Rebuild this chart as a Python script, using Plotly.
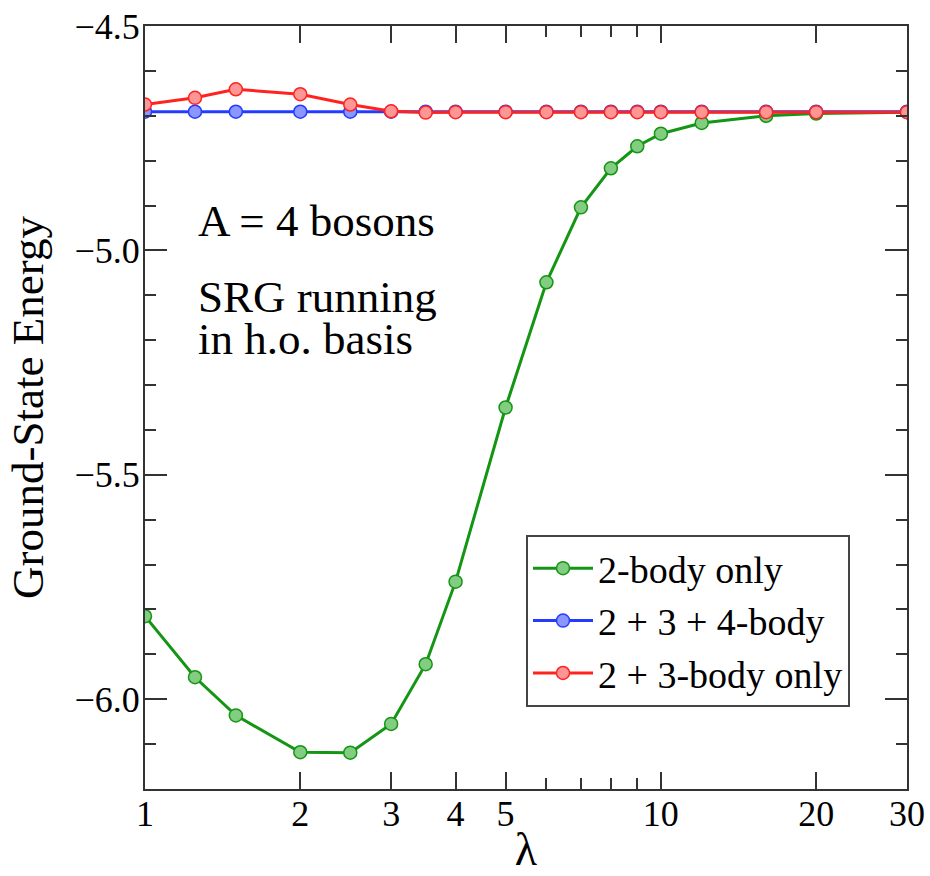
import plotly.graph_objects as go

# SRG flow parameter lambda
lam = [1, 1.25, 1.5, 2, 2.5, 3, 3.5, 4, 5, 6, 7, 8, 9, 10, 12, 16, 20, 30]

# Ground-state energies for A = 4 bosons
e_2body = [-5.815, -5.951, -6.036, -6.118, -6.119, -6.055, -5.922, -5.738,
           -5.350, -5.071, -4.904, -4.817, -4.768, -4.740, -4.716, -4.700,
           -4.695, -4.692]
e_234body = [-4.691] * len(lam)
e_23body = [-4.675, -4.660, -4.641, -4.652, -4.675, -4.690, -4.693, -4.692,
            -4.692, -4.692, -4.692, -4.692, -4.692, -4.692, -4.692, -4.692,
            -4.692, -4.692]

series_names = ["2-body only", "2 + 3 + 4-body", "2 + 3-body only"]

x_major = [1, 2, 3, 4, 5, 10, 20, 30]
x_minor = [6, 7, 8, 9]
y_major = [-4.5, -5.0, -5.5, -6.0]
y_minor = [-4.6, -4.7, -4.8, -4.9, -5.1, -5.2, -5.3, -5.4, -5.6, -5.7,
           -5.8, -5.9, -6.1]

FONT = "Liberation Serif, Times New Roman, serif"

styles = [
    dict(line="rgb(20,150,20)", fill="rgb(130,205,130)"),
    dict(line="rgb(35,60,255)", fill="rgb(140,150,255)"),
    dict(line="rgb(255,35,30)", fill="rgb(255,150,150)"),
]

fig = go.Figure()
for name, ys, st in zip(series_names, [e_2body, e_234body, e_23body], styles):
    fig.add_trace(go.Scatter(
        x=lam, y=ys, name=name, mode="lines+markers",
        line=dict(color=st["line"], width=3),
        marker=dict(symbol="circle", size=13, color=st["fill"],
                    line=dict(color=st["line"], width=1.5)),
    ))

axis_common = dict(
    showline=True, linecolor="#333333", linewidth=2, mirror="ticks",
    ticks="inside", tickcolor="#333333", tickwidth=2,
    showgrid=False, zeroline=False, automargin=False,
    tickfont=dict(family=FONT, size=36, color="black"),
)

fig.update_xaxes(
    type="log", range=[0, 1.4771213],
    tickmode="array", tickvals=x_major, ticktext=[str(v) for v in x_major],
    ticklen=17, ticklabelstandoff=-8,
    minor=dict(tickmode="array", tickvals=x_minor, ticks="inside",
               ticklen=11, tickcolor="#333333", tickwidth=2),
    title=dict(text="λ", font=dict(family=FONT, size=46, color="black"),
               standoff=0),
    **axis_common,
)
fig.update_yaxes(
    range=[-6.2, -4.5],
    tickmode="array", tickvals=y_major, tickformat=".1f",
    ticklen=22, ticklabelstandoff=-4,
    minor=dict(tickmode="array", tickvals=y_minor, ticks="inside",
               ticklen=11, tickcolor="#333333", tickwidth=2),
    title=dict(text="Ground-State Energy",
               font=dict(family=FONT, size=45, color="black"), standoff=17),
    **axis_common,
)

ann_font = dict(family=FONT, size=45, color="black")
for txt, yp in [("A = 4 bosons", 0.745), ("SRG running", 0.645),
                ("in h.o. basis", 0.590)]:
    fig.add_annotation(text=txt, xref="paper", yref="paper", x=0.067, y=yp,
                       xanchor="left", yanchor="middle", showarrow=False,
                       font=ann_font)

fig.update_layout(
    width=930, height=876, autosize=False,
    margin=dict(l=145, r=23, t=26, b=87),
    plot_bgcolor="white", paper_bgcolor="white",
    legend=dict(x=0.5, y=0.1075, xanchor="left", yanchor="bottom",
                bgcolor="white", bordercolor="#444444", borderwidth=2,
                font=dict(family=FONT, size=38, color="black"),
                itemwidth=60, tracegroupgap=0),
)

fig.write_html("out.html")
